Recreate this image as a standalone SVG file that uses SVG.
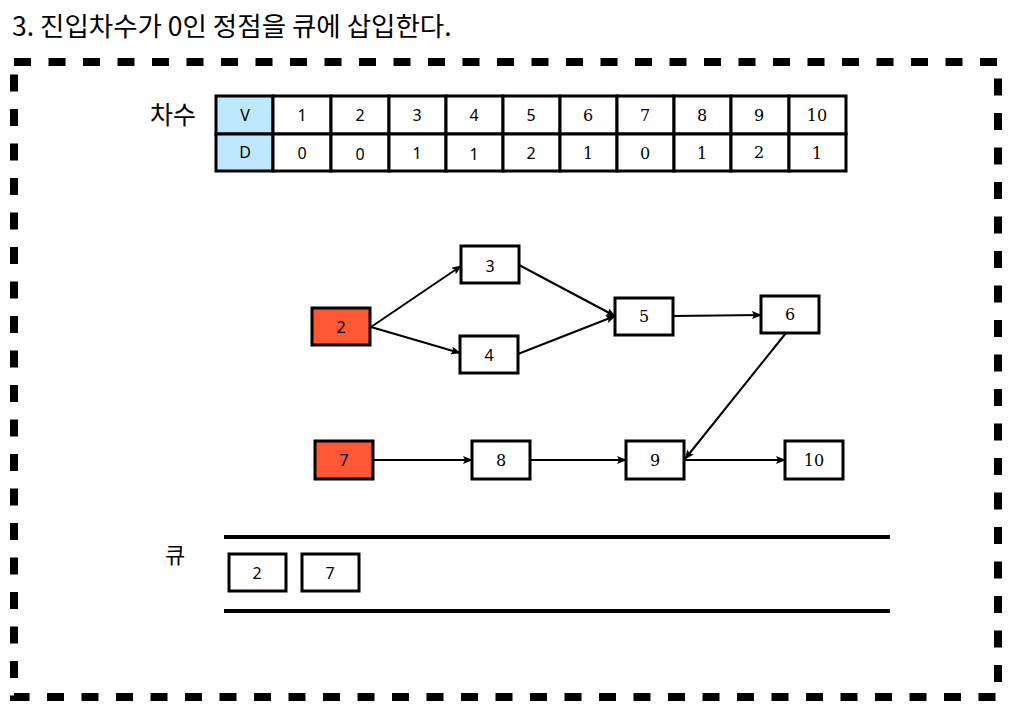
<svg xmlns="http://www.w3.org/2000/svg" width="1020" height="718" viewBox="0 0 1020 718">
<style>
.t{font-family:"Noto Sans CJK KR","Noto Sans",sans-serif;fill:#000}
.s{font-family:"Noto Sans","Liberation Sans",sans-serif;font-size:16px;text-anchor:middle;dominant-baseline:central;fill:#000}
.r{font-family:"DejaVu Serif","Liberation Serif",serif;font-size:16px;text-anchor:middle;dominant-baseline:central;fill:#000}
.cell{fill:#fff;stroke:#000;stroke-width:3}
.hd{fill:#bde8fb;stroke:#000;stroke-width:3}
.node{fill:#fff;stroke:#000;stroke-width:3}
.red{fill:#fd5733;stroke:#000;stroke-width:3}
.e{stroke:#000;stroke-width:2;fill:none;marker-end:url(#ah)}
</style>
<defs>
<marker id="ah" markerWidth="10" markerHeight="8" refX="9" refY="4" orient="auto" markerUnits="userSpaceOnUse">
<path d="M0,0 L10,4 L0,8 L2,4 Z" fill="#000"/>
</marker>
</defs>
<rect width="1020" height="718" fill="#fff"/>
<text class="t" x="12" y="36" font-size="26.5">3. 진입차수가 0인 정점을 큐에 삽입한다.</text>
<rect x="14" y="62" width="984" height="635" fill="none" stroke="#000" stroke-width="8" stroke-dasharray="17 17.5"/>

<g id="degree-table">
<text class="t" x="150" y="124" font-size="25">차수</text>
<rect class="hd" x="216" y="96" width="57" height="38"/>
<rect class="hd" x="216" y="134" width="57" height="37"/>
<text class="s" x="245" y="115">V</text>
<text class="s" x="245" y="152">D</text>
<rect class="cell" x="273" y="96" width="58" height="38"/><rect class="cell" x="273" y="134" width="58" height="37"/>
<rect class="cell" x="331" y="96" width="58" height="38"/><rect class="cell" x="331" y="134" width="58" height="37"/>
<rect class="cell" x="389" y="96" width="57" height="38"/><rect class="cell" x="389" y="134" width="57" height="37"/>
<rect class="cell" x="446" y="96" width="57" height="38"/><rect class="cell" x="446" y="134" width="57" height="37"/>
<rect class="cell" x="503" y="96" width="57" height="38"/><rect class="cell" x="503" y="134" width="57" height="37"/>
<rect class="cell" x="560" y="96" width="57" height="38"/><rect class="cell" x="560" y="134" width="57" height="37"/>
<rect class="cell" x="617" y="96" width="57" height="38"/><rect class="cell" x="617" y="134" width="57" height="37"/>
<rect class="cell" x="674" y="96" width="57" height="38"/><rect class="cell" x="674" y="134" width="57" height="37"/>
<rect class="cell" x="731" y="96" width="58" height="38"/><rect class="cell" x="731" y="134" width="58" height="37"/>
<rect class="cell" x="789" y="96" width="57" height="38"/><rect class="cell" x="789" y="134" width="57" height="37"/>
<text class="s" x="302" y="115">1</text><text class="s" x="302" y="153">0</text>
<text class="s" x="360" y="115">2</text><text class="s" x="360" y="154">0</text>
<text class="s" x="417" y="115">3</text><text class="s" x="417" y="153">1</text>
<text class="s" x="474" y="115">4</text><text class="s" x="474" y="154">1</text>
<text class="s" x="531" y="115">5</text><text class="s" x="531" y="153">2</text>
<text class="r" x="588" y="115">6</text><text class="r" x="588" y="153">1</text>
<text class="r" x="645" y="115">7</text><text class="r" x="645" y="153">0</text>
<text class="r" x="702" y="115">8</text><text class="r" x="702" y="153">1</text>
<text class="r" x="759" y="115">9</text><text class="r" x="759" y="152">2</text>
<text class="r" x="817" y="115">10</text><text class="r" x="817" y="153">1</text>
</g>

<g id="connectors">
<line class="e" x1="371" y1="327" x2="461" y2="266"/>
<line class="e" x1="371" y1="327" x2="460" y2="353"/>
<line class="e" x1="519" y1="265" x2="615" y2="316"/>
<line class="e" x1="518" y1="354" x2="615" y2="316"/>
<line class="e" x1="673" y1="316" x2="761" y2="315"/>
<line class="e" x1="786" y1="333" x2="685" y2="459"/>
<line class="e" x1="373" y1="460" x2="472" y2="460"/>
<line class="e" x1="530" y1="460" x2="626" y2="460"/>
<line class="e" x1="685" y1="460" x2="785" y2="460"/>
</g>

<g id="n2"><rect class="red" x="312" y="308" width="58" height="37"/><text class="s" x="341" y="327">2</text></g>
<g id="n3"><rect class="node" x="461" y="246" width="58" height="37"/><text class="s" x="490" y="266">3</text></g>
<g id="n4"><rect class="node" x="460" y="336" width="58" height="37"/><text class="s" x="489" y="355">4</text></g>
<g id="n5"><rect class="node" x="615" y="298" width="58" height="37"/><text class="r" x="644" y="316">5</text></g>
<g id="n6"><rect class="node" x="761" y="296" width="58" height="37"/><text class="r" x="790" y="314">6</text></g>
<g id="n7"><rect class="red" x="315" y="441" width="58" height="38"/><text class="s" x="344" y="460">7</text></g>
<g id="n8"><rect class="node" x="472" y="441" width="58" height="38"/><text class="r" x="501" y="460">8</text></g>
<g id="n9"><rect class="node" x="626" y="441" width="58" height="38"/><text class="r" x="655" y="460">9</text></g>
<g id="n10"><rect class="node" x="785" y="441" width="58" height="38"/><text class="r" x="814" y="460">10</text></g>

<g id="queue">
<text class="t" x="165" y="563" font-size="22">큐</text>
<line x1="224" y1="537" x2="890" y2="537" stroke="#000" stroke-width="4"/>
<line x1="224" y1="611" x2="890" y2="611" stroke="#000" stroke-width="4"/>
<rect class="node" x="229" y="554" width="57" height="37"/><text class="s" x="257" y="573">2</text>
<rect class="node" x="302" y="554" width="57" height="37"/><text class="s" x="330" y="573">7</text>
</g>
</svg>
